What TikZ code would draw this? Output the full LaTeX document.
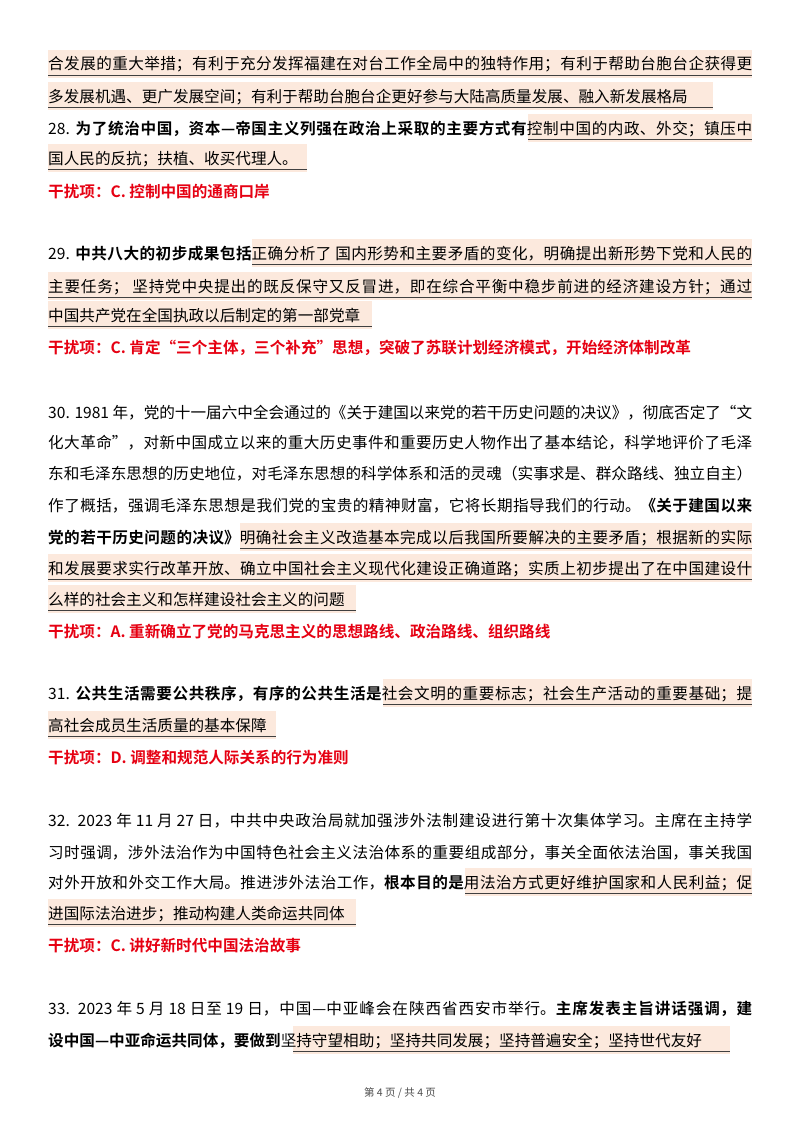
\documentclass[tikz,border=0pt]{standalone}
\usepackage{fontspec}
\setmainfont{Noto Sans CJK SC}[BoldFont={Noto Sans CJK SC Bold}]
\XeTeXlinebreaklocale "zh"
\XeTeXlinebreakskip=0pt plus 3pt
\definecolor{hlc}{HTML}{FCE9DD}
\definecolor{redt}{HTML}{E60012}
\newcommand\pfull[2]{\node[anchor=base west,inner sep=0pt,text width=704pt,align=justify] at (48pt,-#1pt-6pt) {\parfillskip=0pt #2\par};}
\newcommand\plast[2]{\node[anchor=base west,inner sep=0pt] at (48pt,-#1pt-6pt) {#2};}
\newcommand\pred[2]{\node[anchor=base west,inner sep=0pt,text=redt] at (48pt,-#1pt-6pt) {\bfseries #2};}
\newcommand\hlseg[3]{\fill[hlc] (#2pt,-#1pt+14pt) rectangle (#3pt,-#1pt-14pt);
 \draw[black!75,line width=0.8pt] (#2pt,-#1pt-11pt) -- (#3pt,-#1pt-11pt);}
\begin{document}
\begin{tikzpicture}[font=\fontsize{15.6}{20}\selectfont]
\useasboundingbox (0,0) rectangle (800pt,-1132pt);
\fill[white] (0,0) rectangle (800pt,-1132pt);
% highlights
\hlseg{64}{48}{752}
\hlseg{96}{48}{713}
\hlseg{128}{528}{752}
\hlseg{158}{48}{307}
\hlseg{253}{252}{752}
\hlseg{286}{48}{752}
\hlseg{315}{48}{372}
\hlseg{537}{240}{752}
\hlseg{568}{48}{752}
\hlseg{599}{48}{356}
\hlseg{693}{383}{752}
\hlseg{725}{48}{276}
\hlseg{882}{465}{752}
\hlseg{913}{48}{356}
\hlseg{1040}{293}{730}
% text
\pfull{64}{合发展的重大举措；有利于充分发挥福建在对台工作全局中的独特作用；有利于帮助台胞台企获得更}
\plast{96}{多发展机遇、更广发展空间；有利于帮助台胞台企更好参与大陆高质量发展、融入新发展格局}
\pfull{128}{28. \textbf{为了统治中国，资本—帝国主义列强在政治上采取的主要方式有}控制中国的内政、外交；镇压中}
\plast{158}{国人民的反抗；扶植、收买代理人。}
\pred{191}{干扰项：C. 控制中国的通商口岸}
\pfull{253}{29. \textbf{中共八大的初步成果包括}正确分析了 国内形势和主要矛盾的变化，明确提出新形势下党和人民的}
\pfull{286}{主要任务； 坚持党中央提出的既反保守又反冒进，即在综合平衡中稳步前进的经济建设方针；通过}
\plast{315}{中国共产党在全国执政以后制定的第一部党章}
\pred{347}{干扰项：C. 肯定“三个主体，三个补充”思想，突破了苏联计划经济模式，开始经济体制改革}
\pfull{412}{30. 1981 年，党的十一届六中全会通过的《关于建国以来党的若干历史问题的决议》，彻底否定了“文}
\pfull{442}{化大革命”，对新中国成立以来的重大历史事件和重要历史人物作出了基本结论，科学地评价了毛泽}
\pfull{473}{东和毛泽东思想的历史地位，对毛泽东思想的科学体系和活的灵魂（实事求是、群众路线、独立自主）}
\pfull{505}{作了概括，强调毛泽东思想是我们党的宝贵的精神财富，它将长期指导我们的行动。\textbf{《关于建国以来}}
\pfull{537}{\textbf{党的若干历史问题的决议》}明确社会主义改造基本完成以后我国所要解决的主要矛盾；根据新的实际}
\pfull{568}{和发展要求实行改革开放、确立中国社会主义现代化建设正确道路；实质上初步提出了在中国建设什}
\plast{599}{么样的社会主义和怎样建设社会主义的问题}
\pred{631}{干扰项：A. 重新确立了党的马克思主义的思想路线、政治路线、组织路线}
\pfull{693}{31. \textbf{公共生活需要公共秩序，有序的公共生活是}社会文明的重要标志；社会生产活动的重要基础；提}
\plast{725}{高社会成员生活质量的基本保障}
\pred{757}{干扰项：D. 调整和规范人际关系的行为准则}
\pfull{820}{32.\ \ 2023 年 11 月 27 日，中共中央政治局就加强涉外法制建设进行第十次集体学习。主席在主持学}
\pfull{852}{习时强调，涉外法治作为中国特色社会主义法治体系的重要组成部分，事关全面依法治国，事关我国}
\pfull{882}{对外开放和外交工作大局。推进涉外法治工作，\textbf{根本目的是}用法治方式更好维护国家和人民利益；促}
\plast{913}{进国际法治进步；推动构建人类命运共同体}
\pred{945}{干扰项：C. 讲好新时代中国法治故事}
\pfull{1008}{33.\ \ 2023 年 5 月 18 日至 19 日，中国—中亚峰会在陕西省西安市举行。\textbf{主席发表主旨讲话强调，建}}
\plast{1040}{\textbf{设中国—中亚命运共同体，要做到}坚持守望相助；坚持共同发展；坚持普遍安全；坚持世代友好}
\node[font=\fontsize{10.5}{12}\selectfont,text=black!70,inner sep=0pt] (foot) at (400pt,-1093pt) {第 4 页 / 共 4 页};
\end{tikzpicture}
\end{document}
